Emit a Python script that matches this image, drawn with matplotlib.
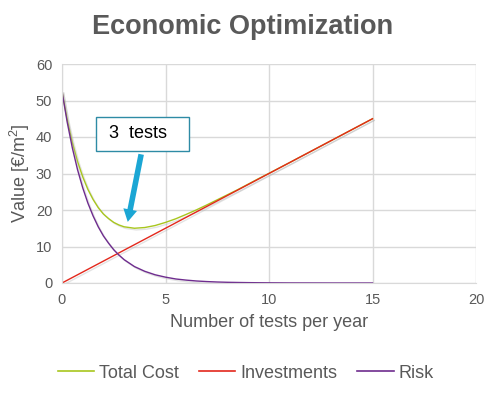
import matplotlib
matplotlib.use("Agg")
import matplotlib.pyplot as plt
import matplotlib.patheffects as pe
from matplotlib.lines import Line2D
from matplotlib.patches import Rectangle

plt.rcParams['font.family'] = ['Liberation Sans', 'DejaVu Sans']
plt.rcParams['mathtext.fontset'] = 'custom'
plt.rcParams['mathtext.rm'] = 'Liberation Sans'

# Data
x_vals = [0, 0.25, 0.5, 0.75, 1, 1.25, 1.5, 1.75, 2, 2.25, 2.5, 2.75, 3, 3.5, 4, 4.5, 5, 5.5,
          6, 6.5, 7, 7.5, 8, 8.5, 9, 9.5, 10, 11, 12, 13, 14, 15]
total_cost = [52.5, 44.85, 38.5, 33.3, 29.1, 25.65, 22.9, 20.65, 18.9, 17.65, 16.6, 15.9, 15.4,
              15.0, 15.2, 15.75, 16.6, 17.6, 18.8, 20.05, 21.4, 22.8, 24.2, 25.6, 27.1, 28.6,
              30.05, 33.0, 36.0, 39.0, 42.0, 45.0]
investments = [0, 0.75, 1.5, 2.25, 3, 3.75, 4.5, 5.25, 6, 6.75, 7.5, 8.25, 9, 10.5, 12, 13.5,
               15, 16.5, 18, 19.5, 21, 22.5, 24, 25.5, 27, 28.5, 30, 33, 36, 39, 42, 45]
risk = [52.5, 44.1, 37.0, 31.06, 26.1, 21.9, 18.4, 15.4, 12.9, 10.9, 9.1, 7.66, 6.4, 4.5, 3.2,
        2.25, 1.6, 1.1, 0.79, 0.55, 0.39, 0.27, 0.19, 0.14, 0.1, 0.07, 0.05, 0.02, 0.01, 0.0,
        0.0, 0.0]
series_names = ["Total Cost", "Investments", "Risk"]
x_ticks = [0, 5, 10, 15, 20]
y_ticks = [0, 10, 20, 30, 40, 50, 60]
annotation_text = "3  tests"

GRAY = "#595959"
fig = plt.figure(figsize=(5.04, 3.94), dpi=100)
ax = fig.add_axes([62/504, 1-283/394, (476-62)/504, (283-64)/394])

shadow = [pe.SimpleLineShadow(offset=(1.2, -1.2), shadow_color="#b0b0b0", alpha=0.35),
          pe.Normal()]
colors = ["#A8C61E", "#E3281C", "#6E2C8E"]
for data, c in zip([total_cost, investments, risk], colors):
    ax.plot(x_vals, data, color=c, lw=1.0, path_effects=shadow)

ax.set_xlim(0, 20)
ax.set_ylim(0, 60)
ax.set_xticks(x_ticks)
ax.set_yticks(y_ticks)
ax.grid(True, color="#D9D9D9", lw=1)
ax.set_axisbelow(True)
for s in ax.spines.values():
    s.set_visible(False)
ax.spines['left'].set_visible(True)
ax.spines['left'].set_color("#D9D9D9")
ax.spines['bottom'].set_visible(True)
ax.spines['bottom'].set_color("#D9D9D9")
ax.tick_params(length=0, labelsize=10.5, colors=GRAY, pad=7)
ax.set_xlabel("Number of tests per year", fontsize=13, color=GRAY, labelpad=5)
ax.set_ylabel("Value [€/m$^2$]", fontsize=13, color=GRAY, labelpad=3)

fig.text(243/504, 1-27/394, "Economic Optimization", ha="center", va="center",
         fontsize=19.5, fontweight="bold", color=GRAY)

# annotation
ax.annotate("", xy=(3.15, 16.0), xytext=(3.85, 36.0),
            arrowprops=dict(arrowstyle="simple,head_length=0.9,head_width=1.0,tail_width=0.4",
                            color="#1BA6D4", lw=0))
fig.patches.append(Rectangle((96/504, 1-151/394), 93/504, 34/394, transform=fig.transFigure,
                             fc="white", ec="#2E8BA5", lw=1, zorder=5))
fig.text(138/504, 1-134/394, annotation_text, ha="center", va="center", fontsize=13,
         color="black", zorder=6)

handles = [Line2D([], [], color=c, lw=1.2) for c in colors]
fig.legend(handles, series_names, loc="center", bbox_to_anchor=(246/504, 1-373/394), ncol=3,
           frameon=False, fontsize=13, labelcolor=GRAY, handlelength=2.0, columnspacing=1.1,
           handletextpad=0.3)

fig.savefig("out.png", dpi=100)
